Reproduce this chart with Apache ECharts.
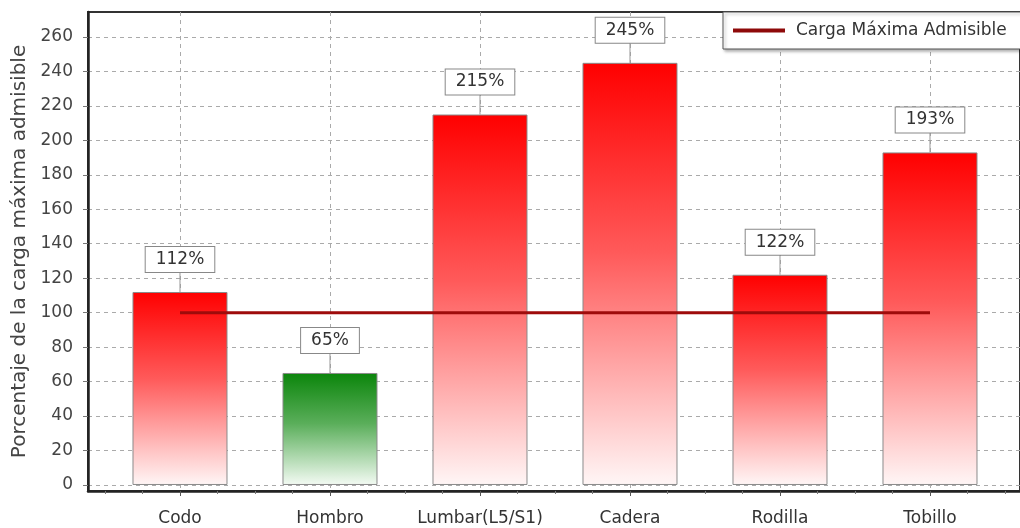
<!DOCTYPE html>
<html>
<head>
<meta charset="utf-8">
<script src="https://cdn.jsdelivr.net/npm/echarts@6/dist/echarts.min.js"></script>
<style>
  html, body { margin: 0; padding: 0; background: #ffffff; }
  #chart { width: 1020px; height: 528px; }
</style>
</head>
<body>
<div id="chart"></div>
<script>
// Joint load as a percentage of the maximum admissible load
const categories = ['Codo', 'Hombro', 'Lumbar(L5/S1)', 'Cadera', 'Rodilla', 'Tobillo'];
const loadPct = [112, 65, 215, 245, 122, 193];
const maxLoad = [100, 100, 100, 100, 100, 100];
const barTone = ['red', 'green', 'red', 'red', 'red', 'red'];
const yTicks = [0, 20, 40, 60, 80, 100, 120, 140, 160, 180, 200, 220, 240, 260];
const legendName = 'Carga Máxima Admisible';
const yName = 'Porcentaje de la carga máxima admisible';

const FONT = '"DejaVu Sans", Verdana, sans-serif';
const X_MIN = -0.6133, X_MAX = 5.6;
const Y_MIN = -3.5, Y_MAX = 274.5;

const catIdx = categories.map((_, i) => i);
// minor ticks every quarter category between the major ones
const quarterTicks = [];
for (let i = -2; i <= 22; i++) {
  const v = i / 4;
  if (i % 4 !== 0 && v > X_MIN && v < X_MAX) quarterTicks.push(v);
}

function gradientFor(tone) {
  const top = tone === 'green' ? '#0b850b' : '#ff0000';
  const mid = tone === 'green' ? '#5aae5a' : '#ff5a5a';
  const bottom = tone === 'green' ? '#f4fbf4' : '#fff6f6';
  return new echarts.graphic.LinearGradient(0, 0, 0, 1, [
    { offset: 0, color: top },
    { offset: 0.45, color: mid },
    { offset: 1, color: bottom }
  ]);
}

const chart = echarts.init(document.getElementById('chart'), null, { renderer: 'canvas' });

chart.setOption({
  backgroundColor: '#ffffff',
  animation: false,
  grid: {
    left: 88, right: -2, top: 12, bottom: 37,
    show: true, borderColor: '#333', borderWidth: 2, backgroundColor: 'transparent'
  },
  legend: {
    data: [{ name: legendName, icon: 'rect' }],
    left: 723, top: 12,
    padding: [10, 80, 10, 10],
    itemWidth: 52, itemHeight: 4,
    itemStyle: { color: '#8e0a0a' },
    backgroundColor: '#ffffff',
    borderColor: '#555', borderWidth: 1,
    shadowColor: 'rgba(0,0,0,0.3)', shadowBlur: 3, shadowOffsetX: 2, shadowOffsetY: 2,
    textStyle: { fontFamily: FONT, fontSize: 17, lineHeight: 15, color: '#333', padding: [0, 0, 0, 6] }
  },
  xAxis: [
    {
      type: 'value', min: X_MIN, max: X_MAX,
      axisLine: { show: true, onZero: false, lineStyle: { color: '#222', width: 2.5 } },
      axisTick: { show: true, customValues: catIdx, length: 5, lineStyle: { color: '#555' } },
      axisLabel: {
        customValues: catIdx,
        formatter: v => categories[Math.round(v)],
        fontFamily: FONT, fontSize: 17, color: '#333', margin: 19
      },
      splitLine: { show: true, lineStyle: { color: '#aaa', type: [4, 4], width: 1 } }
    },
    {
      type: 'value', min: X_MIN, max: X_MAX, position: 'bottom',
      axisLine: { show: false, onZero: false },
      axisTick: { show: true, customValues: quarterTicks, length: 3, lineStyle: { color: '#777' } },
      axisLabel: { show: false },
      splitLine: { show: false }
    }
  ],
  yAxis: {
    type: 'value', min: Y_MIN, max: Y_MAX,
    name: yName, nameLocation: 'middle', nameGap: 57,
    nameTextStyle: { fontFamily: FONT, fontSize: 20, color: '#444' },
    axisLine: { show: true, onZero: false, lineStyle: { color: '#222', width: 2.5 } },
    axisTick: { show: true, customValues: yTicks, length: 5, lineStyle: { color: '#777' } },
    axisLabel: { customValues: yTicks, fontFamily: FONT, fontSize: 17, color: '#444', margin: 15 },
    splitLine: { show: true, lineStyle: { color: '#aaa', type: [4, 4], width: 1 } }
  },
  series: [
    {
      type: 'bar',
      barWidth: 95,
      z: 2,
      data: loadPct.map((v, i) => ({
        value: [i, v],
        itemStyle: { color: gradientFor(barTone[i]), borderColor: '#8a8a8a', borderWidth: 1 }
      }))
    },
    {
      name: legendName,
      type: 'line',
      z: 3,
      symbol: 'none',
      color: '#9e0b0b',
      lineStyle: { color: '#9e0b0b', width: 3 },
      data: maxLoad.map((v, i) => [i, v])
    },
    {
      // value callouts: a thin leader line and a boxed percentage above each bar
      type: 'custom',
      z: 4,
      clip: false,
      data: loadPct.map((v, i) => [i, v]),
      renderItem: (params, api) => {
        const p = api.coord([api.value(0), api.value(1)]);
        const gap = 20;
        return {
          type: 'group',
          children: [
            {
              type: 'line',
              shape: { x1: p[0], y1: p[1], x2: p[0], y2: p[1] - gap },
              style: { stroke: '#999', lineWidth: 1 }
            },
            {
              type: 'text',
              x: p[0], y: p[1] - gap,
              style: {
                text: api.value(1) + '%',
                align: 'center', verticalAlign: 'bottom',
                font: '17px ' + FONT, fill: '#333',
                backgroundColor: '#ffffff',
                borderColor: '#888', borderWidth: 1,
                padding: [4, 10, 4, 10]
              }
            }
          ]
        };
      }
    }
  ]
});
</script>
</body>
</html>
